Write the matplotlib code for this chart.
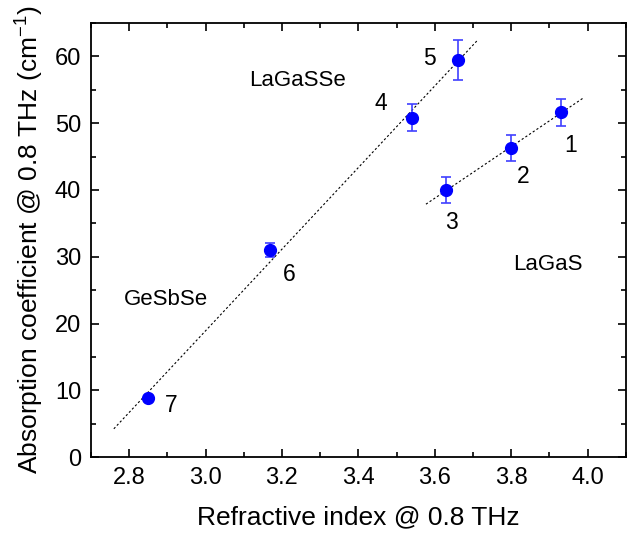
import numpy as np
import matplotlib
matplotlib.use("Agg")
import matplotlib.pyplot as plt
from matplotlib.ticker import MultipleLocator

plt.rcParams['font.family'] = ['Liberation Sans', 'DejaVu Sans']
plt.rcParams['mathtext.fontset'] = 'custom'
plt.rcParams['mathtext.rm'] = 'Liberation Sans'

# samples 1..7
labels = ['1', '2', '3', '4', '5', '6', '7']
n_index = [3.93, 3.80, 3.63, 3.54, 3.66, 3.17, 2.85]
alpha = [51.6, 46.3, 40.0, 50.8, 59.5, 31.0, 8.9]
alpha_err = [2.0, 2.0, 2.0, 2.0, 3.0, 1.0, 0.3]
label_pos = [(3.955, 46.7), (3.832, 42.0), (3.644, 35.1), (3.459, 53.0),
             (3.586, 59.7), (3.220, 27.4), (2.909, 7.8)]

# glass families
families = ['LaGaSSe', 'LaGaS', 'GeSbSe']
family_pos = [(3.241, 56.4), (3.895, 28.8), (2.896, 23.6)]

# linear fits: indices of points and x range of line
fit_groups = [[3, 4, 5, 6], [0, 1, 2]]
fit_ranges = [(2.76, 3.714), (3.577, 3.987)]

fig = plt.figure(figsize=(6.27, 5.33), dpi=100)
ax = fig.add_axes([0.145, 0.142, 0.853, 0.815])

x = np.array(n_index)
y = np.array(alpha)
for grp, (x0, x1) in zip(fit_groups, fit_ranges):
    k, b = np.polyfit(x[grp], y[grp], 1)
    xx = np.array([x0, x1])
    ax.plot(xx, k * xx + b, ls=(0, (2, 2)), color='black', lw=0.8)

ax.errorbar(n_index, alpha, yerr=alpha_err, fmt='o', color='#0000ff',
            ms=8.5, ecolor='#4040ff', elinewidth=1.2, capsize=3.5, capthick=1.2, zorder=3)

for lab, (tx, ty) in zip(labels, label_pos):
    ax.text(tx, ty, lab, fontsize=16.5, ha='center', va='center')
for fam, (tx, ty) in zip(families, family_pos):
    ax.text(tx, ty, fam, fontsize=16, ha='center', va='center')

ax.set_xlim(2.7, 4.1)
ax.set_ylim(0, 65)
ax.xaxis.set_major_locator(MultipleLocator(0.2))
ax.xaxis.set_minor_locator(MultipleLocator(0.1))
ax.yaxis.set_major_locator(MultipleLocator(10))
ax.yaxis.set_minor_locator(MultipleLocator(5))
ax.tick_params(which='both', direction='in', top=True, right=True, width=1.2)
ax.tick_params(which='major', length=6, labelsize=17, pad=7)
ax.tick_params(which='minor', length=3.5)
for s in ax.spines.values():
    s.set_linewidth(1.3)

ax.set_xlabel('Refractive index @ 0.8 THz', fontsize=19, labelpad=12)
ax.set_ylabel('Absorption coefficient @ 0.8 THz (cm$^{-1}$)', fontsize=19, labelpad=7)

fig.savefig('out.png', dpi=100)
